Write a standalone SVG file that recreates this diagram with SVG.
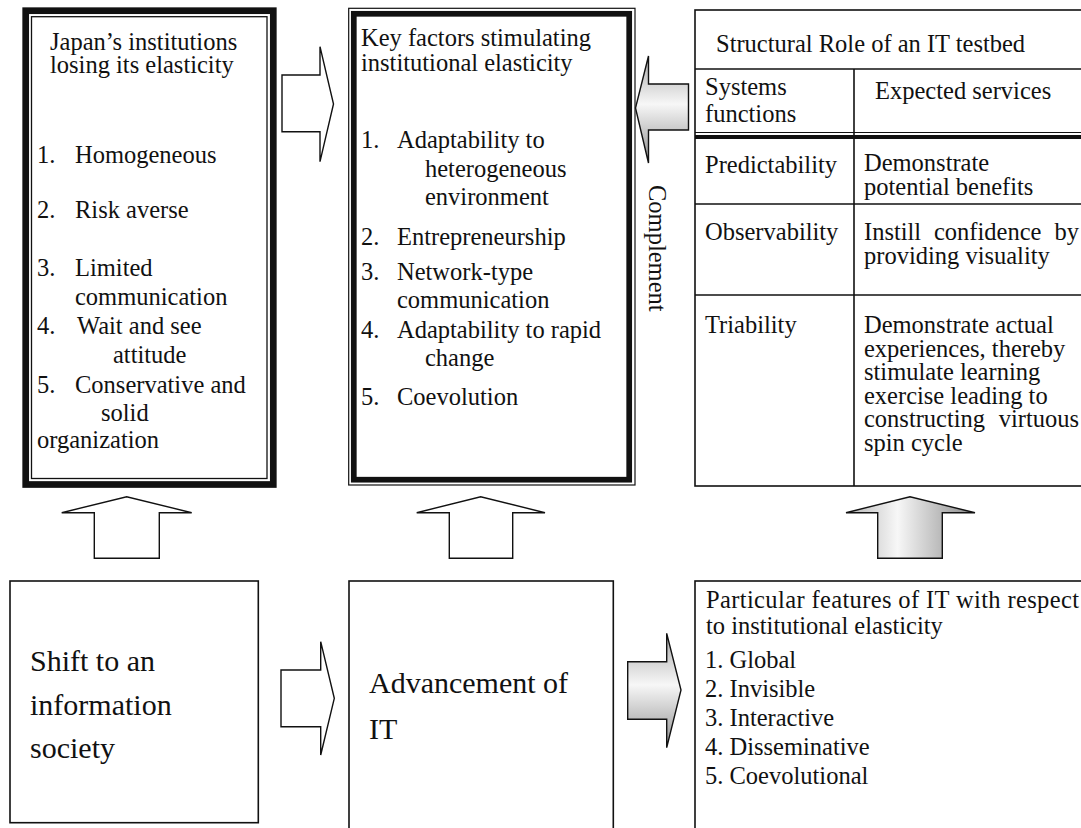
<svg xmlns="http://www.w3.org/2000/svg" width="1081" height="828" viewBox="0 0 1081 828">
<style>
text{font-family:"Liberation Serif","Times New Roman",serif;font-size:24.5px;fill:#111}
.big{font-size:30px}
.box{fill:#fff;stroke:#111;stroke-width:1.6}
.ln{stroke:#111;stroke-width:1.6;fill:none}
.warr{fill:#fff;stroke:#111;stroke-width:1.4;stroke-linejoin:miter}
.garr{stroke:#111;stroke-width:1.4;stroke-linejoin:miter}
</style>
<defs>
<linearGradient id="gv" x1="0" y1="0" x2="0" y2="1">
<stop offset="0" stop-color="#a9a9a9"/>
<stop offset="0.45" stop-color="#f7f7f7"/>
<stop offset="1" stop-color="#8f8f8f"/>
</linearGradient>
<linearGradient id="gh" x1="0" y1="0" x2="1" y2="0">
<stop offset="0" stop-color="#b5b5b5"/>
<stop offset="0.4" stop-color="#f7f7f7"/>
<stop offset="1" stop-color="#8a8a8a"/>
</linearGradient>
</defs>
<rect width="1081" height="828" fill="#fff"/>

<g id="node-japan">
<rect x="25.7" y="10.7" width="247.6" height="473.8" fill="#fff" stroke="#111" stroke-width="6.7"/>
<rect x="31.5" y="16.7" width="235.5" height="461.8" fill="none" stroke="#111" stroke-width="1.3"/>
<text x="50" y="50">Japan’s institutions</text>
<text x="50" y="73">losing its elasticity</text>
<text x="37" y="163">1.</text><text x="75" y="163">Homogeneous</text>
<text x="37" y="218">2.</text><text x="75" y="218">Risk averse</text>
<text x="37" y="276">3.</text><text x="75" y="276">Limited</text>
<text x="75" y="305">communication</text>
<text x="37" y="334">4.</text><text x="77" y="334">Wait and see</text>
<text x="113" y="363">attitude</text>
<text x="37" y="393">5.</text><text x="75" y="393">Conservative and</text>
<text x="101" y="421">solid</text>
<text x="37" y="448">organization</text>
</g>

<g id="node-keyfactors">
<rect x="348.7" y="8.3" width="286.3" height="476.7" fill="#fff" stroke="#111" stroke-width="1.2"/>
<rect x="353.8" y="13.8" width="275.4" height="465.9" fill="none" stroke="#111" stroke-width="5.7"/>
<text x="361" y="46">Key factors stimulating</text>
<text x="361" y="71">institutional elasticity</text>
<text x="361" y="148">1.</text><text x="397" y="148">Adaptability to</text>
<text x="425" y="177">heterogeneous</text>
<text x="425" y="205">environment</text>
<text x="361" y="245">2.</text><text x="397" y="245">Entrepreneurship</text>
<text x="361" y="280">3.</text><text x="397" y="280">Network-type</text>
<text x="397" y="308">communication</text>
<text x="361" y="338">4.</text><text x="397" y="338">Adaptability to rapid</text>
<text x="425" y="366">change</text>
<text x="361" y="405">5.</text><text x="397" y="405">Coevolution</text>
</g>

<g id="node-testbed">
<rect x="695" y="10" width="400" height="476" class="box"/>
<line x1="695" y1="69" x2="1081" y2="69" class="ln"/>
<line x1="854" y1="69" x2="854" y2="486" class="ln"/>
<line x1="695" y1="132.5" x2="1081" y2="132.5" stroke="#111" stroke-width="1"/>
<line x1="695" y1="137" x2="1081" y2="137" stroke="#111" stroke-width="4"/>
<line x1="695" y1="204" x2="1081" y2="204" class="ln"/>
<line x1="695" y1="295" x2="1081" y2="295" class="ln"/>
<text x="716" y="52">Structural Role of an IT testbed</text>
<text x="705" y="95">Systems</text>
<text x="705" y="122">functions</text>
<text x="875" y="99">Expected services</text>
<text x="705" y="173">Predictability</text>
<text x="864" y="171">Demonstrate</text>
<text x="864" y="195">potential benefits</text>
<text x="705" y="240">Observability</text>
<text y="240"><tspan x="864">Instill</tspan><tspan x="934">confidence</tspan><tspan x="1054.5">by</tspan></text>
<text x="864" y="264">providing visuality</text>
<text x="705" y="333">Triability</text>
<text x="864" y="333">Demonstrate actual</text>
<text x="864" y="356.5">experiences, thereby</text>
<text x="864" y="380">stimulate learning</text>
<text x="864" y="403.5">exercise leading to</text>
<text y="427"><tspan x="864">constructing</tspan><tspan x="1079" text-anchor="end">virtuous</tspan></text>
<text x="864" y="450.5">spin cycle</text>
</g>

<g id="node-shift">
<rect x="10" y="581" width="248.3" height="241.7" class="box"/>
<text class="big" x="30" y="671">Shift to an</text>
<text class="big" x="30" y="715">information</text>
<text class="big" x="30" y="758">society</text>
</g>

<g id="node-advancement">
<rect x="349" y="581" width="264.3" height="262" class="box"/>
<text class="big" x="369" y="693">Advancement of</text>
<text class="big" x="369" y="739">IT</text>
</g>

<g id="node-features">
<rect x="695" y="581" width="400" height="262" class="box"/>
<text x="706" y="608" textLength="373" lengthAdjust="spacing">Particular features of IT with respect</text>
<text x="706" y="634">to institutional elasticity</text>
<text x="705" y="668">1.  Global</text>
<text x="705" y="697">2.  Invisible</text>
<text x="705" y="726">3.  Interactive</text>
<text x="705" y="755">4.  Disseminative</text>
<text x="705" y="784">5.  Coevolutional</text>
</g>

<g id="connectors">
<polygon class="warr" points="282,75 320,75 320,46.7 333.5,104 320,161.7 320,131.7 282,131.7"/>
<polygon class="garr" fill="url(#gv)" points="688.5,84 648.5,84 648.5,56 635.5,108 648.5,163 648.5,130 688.5,130"/>
<text transform="translate(648.5,185) rotate(90)">Complement</text>
<polygon class="warr" points="94.3,558.3 94.3,512.7 61.7,512.7 126.7,496.7 191.7,512.7 159.3,512.7 159.3,558.3"/>
<polygon class="warr" points="449.3,558.3 449.3,512.7 416.7,512.7 480.7,496.7 545,512.7 512.7,512.7 512.7,558.3"/>
<polygon class="garr" fill="url(#gh)" points="877.7,558.3 877.7,512.7 846,512.7 910,496.7 975,512.7 942.3,512.7 942.3,558.3"/>
<polygon class="warr" points="281,670 320.7,670 320.7,641.7 334.3,698.3 320.7,755 320.7,726.7 281,726.7"/>
<polygon class="garr" fill="url(#gv)" points="627.7,661.7 666.7,661.7 666.7,633.3 681,690 666.7,747.7 666.7,719.3 627.7,719.3"/>
</g>
</svg>
